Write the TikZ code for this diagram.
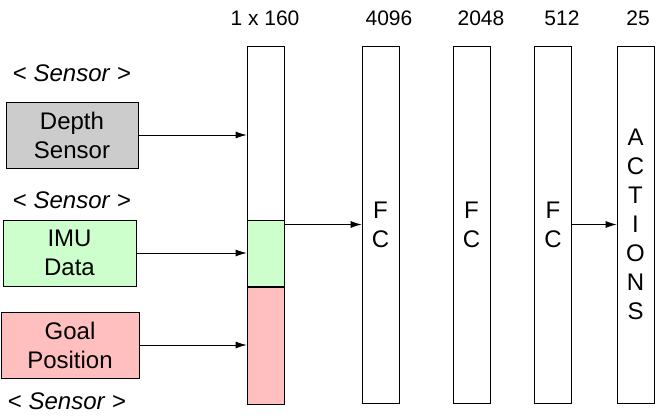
\documentclass[tikz,border=0pt]{standalone}
\usepackage{fontspec}
\setmainfont{Liberation Sans}
\usetikzlibrary{arrows.meta,positioning}
\definecolor{depthgray}{HTML}{CCCCCC}
\definecolor{imugreen}{HTML}{CCFFCC}
\definecolor{goalpink}{HTML}{FFBFBF}

\begin{document}
\begin{tikzpicture}[x=1pt,y=-1pt,>={Latex[length=11pt,width=7pt]},align=center,line width=0.8pt,
	every node/.style={font=\fontsize{24}{29}\selectfont},
	sensor/.style={draw,minimum width=133pt,minimum height=66pt,inner sep=0pt},
	seg/.style={draw,minimum width=37pt,inner sep=0pt},
	layer/.style={draw,minimum width=37pt,minimum height=357pt,inner sep=0pt},
	dim/.style={font=\fontsize{21}{24}\selectfont},
	tag/.style={font=\fontsize{24}{28}\selectfont}]
	\useasboundingbox (0,0) rectangle (656,420);
	% inputs
	\node[tag] (tag_1) at (72,73) {< \textit{Sensor} >};
	\node[sensor,fill=depthgray,minimum width=132pt] (depth) at (72,135) {Depth\\Sensor};
	\node[tag] (tag_2) at (72,200) {< \textit{Sensor} >};
	\node[sensor,fill=imugreen] (imu) at (69.5,253) {IMU\\Data};
	\node[sensor,fill=goalpink,minimum width=138pt] (goal) at (70,345) {Goal\\Position};
	\node[tag] (tag_3) at (67,401) {< \textit{Sensor} >};
	% concatenated input
	\node[seg,minimum height=174pt] (seg_0) at (265.5,133) {};
	\node[seg,fill=imugreen,minimum height=66pt] [below=0pt of seg_0] (seg_1) {};
	\node[seg,fill=goalpink,minimum height=117pt] [below=0pt of seg_1] (seg_2) {};
	% fully connected layers
	\node[layer] (fc_1) at (380.5,224.5) {F\\C};
	\node[layer] (fc_2) at (471.5,224.5) {F\\C};
	\node[layer] (fc_3) at (553,224.5) {F\\C};
	\node[layer] (out) at (635.5,224.5) {A\\C\\T\\I\\O\\N\\S};
	% sizes
	\node[dim] (dim_0) at (265,18) {1 x 160};
	\node[dim] (dim_1) at (389,18) {4096};
	\node[dim] (dim_2) at (481,18) {2048};
	\node[dim] (dim_3) at (562,18) {512};
	\node[dim] (dim_4) at (638,18) {25};
	\path[->]
		(depth.east) edge (depth.east -| seg_0.west)
		(imu.east) edge (imu.east -| seg_1.west)
		(goal.east) edge (goal.east -| seg_2.west)
		(fc_1.west -| seg_1.east) edge (fc_1.west)
		(fc_3.east) edge (out.west);
\end{tikzpicture}
\end{document}
